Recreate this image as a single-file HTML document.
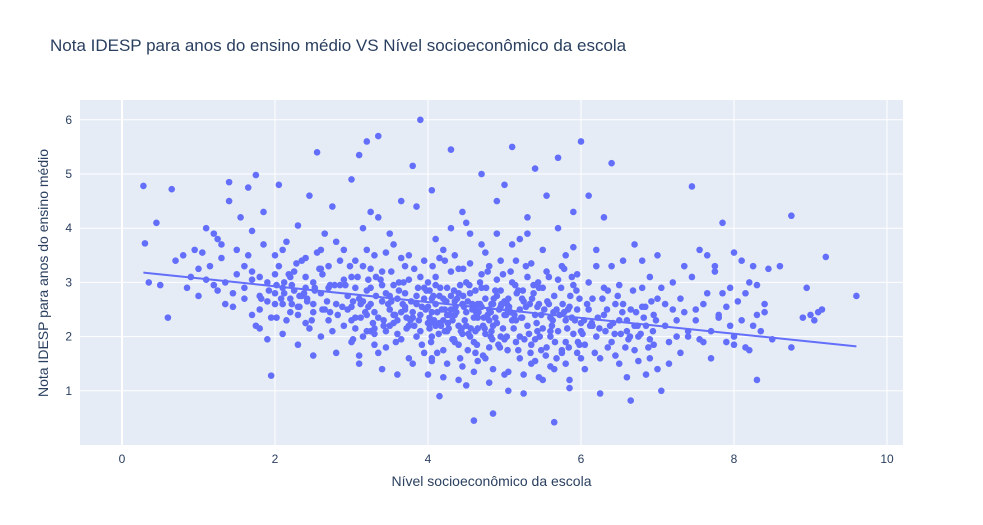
<!DOCTYPE html>
<html><head><meta charset="utf-8"><style>
html,body{margin:0;padding:0;background:#fff;}
svg{display:block;font-family:"Liberation Sans",Arial,sans-serif;}
</style></head><body>
<svg id="chart" width="983" height="525">
<rect x="0" y="0" width="983" height="525" fill="#fff"/>
<rect x="80" y="100" width="823" height="345" fill="#e5ecf6"/>
<g id="grid"></g>
<g id="marks"></g>
<g id="axes"></g>
<text x="50" y="51" font-size="17" fill="#2a3f5f">Nota IDESP para anos do ensino médio VS Nível socioeconômico da escola</text>
<text x="491.5" y="486" font-size="14" fill="#2a3f5f" text-anchor="middle">Nível socioeconômico da escola</text>
<text x="0" y="0" font-size="14" fill="#2a3f5f" text-anchor="middle" transform="translate(48,273) rotate(-90)">Nota IDESP para anos do ensino médio</text>
</svg>
<script>
const xTicks=[0,2,4,6,8,10];
const yTicks=[1,2,3,4,5,6];
const trendX=[0.28,9.6];
const trendY=[3.18,1.82];
const socio=[
0.28,0.3,0.35,0.45,0.5,0.6,0.65,0.7,0.8,0.85,
0.9,0.95,1.0,1.05,1.1,1.15,1.2,1.25,1.3,1.35,
1.0,1.1,1.2,1.3,1.4,1.45,1.5,1.4,1.35,1.25,
1.45,1.5,1.55,1.6,1.6,1.65,1.7,1.7,1.75,1.8,
1.8,1.85,1.9,1.95,2.0,2.0,2.05,2.1,2.1,2.15,
2.2,2.25,2.3,2.3,2.35,2.4,2.4,2.45,2.5,2.5,
1.6,1.7,1.8,1.9,2.0,2.1,2.2,2.3,2.4,2.5,
1.65,1.75,1.85,1.95,2.05,2.15,2.25,2.35,2.45,2.55,
1.7,1.8,1.9,2.0,2.1,2.2,2.3,2.4,2.5,2.6,
2.55,2.6,2.65,2.7,2.75,2.8,2.85,2.9,2.95,3.0,
2.6,2.7,2.8,2.9,3.0,2.65,2.75,2.85,2.95,3.05,
2.6,2.7,2.8,2.9,3.0,3.1,3.15,3.2,3.25,3.3,
3.0,3.05,3.1,3.15,3.2,3.25,3.3,3.35,3.4,3.45,
3.5,3.55,3.6,3.65,3.7,3.75,3.8,3.85,3.9,3.95,
3.1,3.2,3.3,3.4,3.5,3.6,3.7,3.8,3.9,4.0,
3.05,3.15,3.25,3.35,3.45,3.55,3.65,3.75,3.85,3.95,
3.1,3.2,3.3,3.4,3.5,3.6,3.7,3.8,3.9,4.0,
3.15,3.25,3.35,3.45,3.55,3.65,3.75,3.85,3.95,4.05,
3.0,3.2,3.4,3.6,3.8,4.0,3.3,3.5,3.7,3.9,
3.05,3.25,3.45,3.65,3.85,4.05,3.35,3.55,3.75,3.95,
4.0,4.05,4.1,4.15,4.2,4.25,4.3,4.35,4.4,4.45,
4.5,4.55,4.6,4.65,4.7,4.75,4.8,4.85,4.9,4.95,
4.1,4.2,4.3,4.4,4.5,4.6,4.7,4.8,4.9,5.0,
4.05,4.15,4.25,4.35,4.45,4.55,4.65,4.75,4.85,4.95,
4.1,4.2,4.3,4.4,4.5,4.6,4.7,4.8,4.9,5.0,
4.05,4.15,4.25,4.35,4.45,4.55,4.65,4.75,4.85,4.95,
4.1,4.2,4.3,4.4,4.5,4.6,4.7,4.8,4.9,5.0,
4.05,4.15,4.25,4.35,4.45,4.55,4.65,4.75,4.85,4.95,
4.1,4.3,4.5,4.7,4.9,4.2,4.4,4.6,4.8,5.0,
4.12,4.32,4.52,4.72,4.92,4.22,4.42,4.62,4.82,4.02,
5.0,5.05,5.1,5.15,5.2,5.25,5.3,5.35,5.4,5.45,
5.5,5.55,5.6,5.65,5.7,5.75,5.8,5.85,5.9,5.95,
5.1,5.2,5.3,5.4,5.5,5.6,5.7,5.8,5.9,6.0,
5.05,5.15,5.25,5.35,5.45,5.55,5.65,5.75,5.85,5.95,
5.1,5.2,5.3,5.4,5.5,5.6,5.7,5.8,5.9,6.0,
5.05,5.15,5.25,5.35,5.45,5.55,5.65,5.75,5.85,5.95,
5.1,5.2,5.3,5.4,5.5,5.6,5.7,5.8,5.9,6.0,
5.08,5.28,5.48,5.68,5.88,5.18,5.38,5.58,5.78,5.98,
6.0,6.05,6.1,6.15,6.2,6.25,6.3,6.35,6.4,6.45,
6.5,6.55,6.6,6.65,6.7,6.75,6.8,6.85,6.9,6.95,
6.1,6.2,6.3,6.4,6.5,6.6,6.7,6.8,6.9,7.0,
6.05,6.15,6.25,6.35,6.45,6.55,6.65,6.75,6.85,6.95,
6.1,6.2,6.3,6.4,6.5,6.6,6.7,6.8,6.9,7.0,
6.12,6.32,6.52,6.72,6.92,6.22,6.42,6.62,6.82,6.02,
7.0,7.05,7.1,7.15,7.2,7.25,7.3,7.35,7.4,7.45,
7.5,7.55,7.6,7.65,7.7,7.75,7.8,7.85,7.9,7.95,
7.1,7.2,7.3,7.4,7.5,7.6,7.7,7.8,7.9,8.0,
7.05,7.25,7.45,7.65,7.85,7.15,7.35,7.55,7.75,7.95,
8.0,8.1,8.15,8.2,8.25,8.3,8.3,8.35,8.4,8.5,
8.05,8.2,8.4,8.6,8.75,8.75,8.9,8.95,9.0,9.05,
9.1,9.15,9.2,8.0,8.1,8.3,8.45,9.6,8.25,8.15,
2.02,2.22,2.42,2.62,2.82,3.02,3.22,3.42,3.62,3.82,
2.12,2.32,2.52,2.72,2.92,3.12,3.32,3.52,3.72,3.92,
2.08,2.28,2.48,2.68,2.88,3.08,3.28,3.48,3.68,3.88,
2.18,2.38,2.58,2.78,2.98,3.18,3.38,3.58,3.78,3.98,
3.02,3.22,3.42,3.62,3.82,4.02,4.22,4.42,4.62,4.82,
3.12,3.32,3.52,3.72,3.92,4.12,4.32,4.52,4.62,4.72,
4.08,4.18,4.28,4.38,4.48,4.58,4.68,4.78,4.88,4.98,
4.02,4.14,4.26,4.36,4.46,4.56,4.66,4.76,4.86,4.96,
4.04,4.16,4.24,4.34,4.44,4.54,4.64,4.74,4.84,4.94,
4.06,4.22,4.34,4.46,4.58,4.68,4.78,4.88,4.98,5.04,
5.02,5.12,5.22,5.32,5.42,5.52,5.62,5.72,5.82,5.92,
5.06,5.16,5.26,5.36,5.46,5.56,5.66,5.76,5.86,5.96,
5.04,5.14,5.24,5.34,5.44,5.54,5.64,5.74,5.84,5.94,
5.08,5.18,5.28,5.38,5.48,5.58,5.68,5.78,5.88,5.98,
6.04,6.14,6.24,6.34,6.44,6.54,6.64,6.74,6.84,6.94,
6.08,6.18,6.28,6.38,6.48,6.58,6.68,6.78,6.88,6.98,
1.82,1.92,2.02,2.12,2.22,2.32,2.42,2.52,2.62,2.72,
4.03,4.23,4.43,4.63,4.83,5.03,5.23,5.43,5.63,5.83,
3.57,3.67,3.77,3.87,3.97,4.07,4.17,4.27,4.37,4.47,
4.53,4.63,4.73,4.83,4.93,5.03,5.13,5.23,5.33,5.43
];
const nota=[
4.78,3.72,3.0,4.1,2.95,2.35,4.72,3.4,3.5,2.9,
3.1,3.6,2.75,3.55,4.0,3.3,3.9,2.85,3.7,2.6,
3.25,3.05,2.95,3.45,4.5,2.55,3.15,4.85,3.0,3.8,
2.8,3.6,4.2,3.3,2.7,4.75,3.95,2.4,4.98,3.1,
2.15,4.3,1.95,1.28,2.6,3.5,4.8,2.9,2.05,3.75,
2.45,3.2,4.05,1.85,2.75,3.45,2.25,4.6,1.65,3.0,
2.9,3.2,2.5,3.0,2.8,2.6,3.1,2.4,2.9,2.6,
3.5,2.2,3.7,2.35,3.3,2.3,2.85,3.4,2.15,3.55,
3.05,2.75,2.65,3.15,3.6,2.7,2.55,3.1,2.45,3.25,
5.4,2.0,3.9,2.3,4.4,1.7,2.95,3.6,2.5,4.9,
2.8,3.3,2.6,2.2,3.1,2.5,2.1,3.4,2.75,2.35,
3.6,2.9,3.75,3.05,1.9,5.35,2.65,5.6,4.3,2.05,
2.3,2.9,1.5,3.3,2.1,2.6,3.5,5.7,1.4,2.8,
2.2,3.7,1.3,4.5,2.55,3.05,5.15,2.0,6.0,2.7,
2.7,2.4,2.15,3.2,2.5,2.3,2.8,2.45,2.1,3.0,
3.4,2.0,2.9,2.35,1.8,2.95,1.95,3.5,2.6,1.7,
1.65,3.6,1.85,2.65,3.9,2.05,3.3,1.5,3.1,2.25,
4.0,3.25,4.2,2.1,2.4,3.45,2.2,4.4,2.9,1.55,
2.55,2.85,2.95,2.7,2.35,2.55,2.45,2.75,2.5,2.4,
2.15,2.1,3.55,2.45,2.75,2.7,1.7,2.25,1.6,3.4,
1.3,4.7,2.2,0.9,3.6,2.4,5.45,1.9,2.8,4.3,
1.1,3.9,0.45,2.6,5.0,1.6,3.3,0.58,4.5,2.0,
2.6,2.3,2.5,2.2,2.45,2.35,2.55,2.3,2.25,2.4,
2.0,2.75,2.1,2.65,2.05,2.8,2.15,2.7,2.6,2.85,
3.1,1.75,3.2,1.85,3.0,1.9,3.15,1.8,3.05,1.95,
1.6,3.45,1.5,3.5,1.45,3.35,1.55,3.55,1.4,3.4,
3.8,1.25,4.0,1.2,4.1,1.35,3.7,1.15,3.9,1.3,
2.45,2.25,2.9,2.4,2.6,2.0,2.35,2.05,2.2,2.55,
2.95,2.75,2.2,2.9,2.75,2.7,3.25,2.55,2.5,2.65,
1.7,1.95,1.75,1.65,1.85,2.1,1.6,1.7,2.0,2.35,
4.8,1.0,5.5,2.3,3.8,0.95,4.2,1.5,5.1,2.9,
1.2,4.6,2.1,0.42,5.3,1.7,3.5,1.05,4.3,2.5,
2.3,2.5,2.2,2.4,2.15,2.35,2.1,2.3,2.05,2.25,
2.7,1.9,2.65,1.85,2.6,1.8,2.75,1.75,2.55,1.7,
3.0,1.6,3.1,1.55,2.9,1.45,3.05,1.5,2.95,1.6,
1.35,3.4,1.3,3.35,1.25,3.2,1.4,3.3,1.2,3.15,
3.7,2.0,3.9,1.95,3.6,2.0,4.0,1.9,3.65,2.1,
2.45,2.55,2.4,2.5,2.35,2.85,2.8,2.6,2.45,2.7,
5.6,1.4,4.6,2.2,3.3,0.95,4.2,1.8,5.2,2.6,
1.5,3.4,2.3,0.82,3.7,2.0,2.9,1.3,3.1,2.4,
2.5,2.0,2.4,1.9,2.3,2.1,1.75,2.55,1.95,1.4,
1.85,2.7,1.6,2.85,1.65,2.6,2.5,1.55,2.2,1.85,
3.0,3.6,2.9,3.3,2.95,1.25,2.2,3.4,1.6,2.7,
2.2,2.1,2.05,2.45,2.65,2.35,2.25,1.95,2.35,2.05,
3.5,1.0,2.6,1.9,3.0,2.3,1.7,3.3,2.1,4.77,
2.5,3.6,1.9,2.8,1.6,3.2,2.4,4.1,1.9,2.9,
2.2,2.5,2.7,2.0,2.3,2.6,2.1,2.35,2.55,2.0,
2.9,2.0,3.1,3.5,2.8,1.5,2.45,1.95,3.3,2.2,
3.55,3.4,2.8,1.75,3.3,1.2,2.95,2.1,2.6,1.95,
2.65,3.0,2.45,3.3,4.23,1.8,2.35,2.9,2.4,2.3,
2.45,2.5,3.47,1.85,2.3,2.4,3.25,2.75,2.2,1.8,
2.35,2.95,2.7,3.15,2.4,2.65,3.05,2.2,2.85,3.25,
3.0,2.55,2.9,2.45,2.95,2.35,2.75,3.2,2.15,2.55,
2.7,3.35,2.3,2.65,2.55,3.1,2.25,2.6,3.0,2.3,
3.15,2.8,3.25,2.95,3.3,2.45,3.05,1.9,2.65,2.85,
1.95,2.55,2.3,3.0,2.2,2.15,2.5,2.95,2.1,2.45,
2.6,3.1,2.65,2.35,1.85,2.45,2.3,2.65,2.85,2.2,
2.3,2.5,2.4,2.7,2.3,2.5,2.6,2.4,2.35,2.15,
2.85,2.05,2.25,2.55,2.75,2.15,2.45,2.9,2.7,2.6,
1.9,2.9,2.65,1.95,2.15,2.95,1.85,2.15,1.95,1.8,
3.3,3.4,2.85,3.25,2.6,3.0,3.2,2.85,3.15,2.5,
2.4,2.15,2.35,2.05,2.25,2.5,2.2,2.4,2.15,2.3,
2.55,2.8,1.95,2.7,2.0,2.65,1.9,2.6,2.75,1.9,
1.75,2.95,2.85,1.7,3.0,1.65,2.45,2.9,1.8,2.85,
3.2,1.75,3.3,2.95,1.75,3.1,1.6,3.25,3.1,1.85,
2.3,2.25,2.15,2.5,2.05,2.45,2.0,2.2,2.55,2.1,
2.6,1.7,2.7,2.2,2.75,1.8,2.85,2.05,1.8,2.3,
2.7,2.85,2.95,2.8,2.6,2.75,2.65,2.85,2.5,2.95,
2.25,2.65,2.1,2.45,2.6,2.6,2.35,2.55,2.3,2.5,
2.4,2.6,2.3,2.9,2.5,2.75,2.2,2.15,2.45,2.55,
2.05,2.55,2.35,2.1,2.5,2.0,2.4,2.7,2.6,2.1
];
const NS='http://www.w3.org/2000/svg';
function xs(v){return 122+76.5*v;}
function ys(v){return 445-54.2*v;}
const grid=document.getElementById('grid');
const axes=document.getElementById('axes');
const marks=document.getElementById('marks');
xTicks.forEach(t=>{
  const l=document.createElementNS(NS,'line');
  l.setAttribute('x1',xs(t));l.setAttribute('x2',xs(t));
  l.setAttribute('y1',100);l.setAttribute('y2',445);
  l.setAttribute('stroke','#fff');l.setAttribute('stroke-width',t===0?2:1);
  
  
  grid.appendChild(l);
  const tx=document.createElementNS(NS,'text');
  tx.setAttribute('x',xs(t));tx.setAttribute('y',463);
  tx.setAttribute('text-anchor','middle');tx.setAttribute('font-size','12');tx.setAttribute('fill','#2a3f5f');
  tx.textContent=t;
  
  
  axes.appendChild(tx);
});
yTicks.forEach(t=>{
  const l=document.createElementNS(NS,'line');
  l.setAttribute('x1',80);l.setAttribute('x2',903);
  l.setAttribute('y1',ys(t));l.setAttribute('y2',ys(t));
  l.setAttribute('stroke','#fff');l.setAttribute('stroke-width',1);
  
  
  grid.appendChild(l);
  const tx=document.createElementNS(NS,'text');
  tx.setAttribute('x',72);tx.setAttribute('y',ys(t)+4);
  tx.setAttribute('text-anchor','end');tx.setAttribute('font-size','12');tx.setAttribute('fill','#2a3f5f');
  tx.textContent=t;
  
  
  axes.appendChild(tx);
});
const n=Math.min(socio.length,nota.length);
for(let i=0;i<n;i++){
  const c=document.createElementNS(NS,'circle');
  c.setAttribute('cx',xs(socio[i]));c.setAttribute('cy',ys(nota[i]));
  c.setAttribute('r',3.3);c.setAttribute('fill','#636efa');
  
  
  marks.appendChild(c);
}
const tl=document.createElementNS(NS,'line');
tl.setAttribute('x1',xs(trendX[0]));tl.setAttribute('y1',ys(trendY[0]));
tl.setAttribute('x2',xs(trendX[1]));tl.setAttribute('y2',ys(trendY[1]));
tl.setAttribute('stroke','#636efa');tl.setAttribute('stroke-width',2);


marks.appendChild(tl);
</script>
</body></html>
